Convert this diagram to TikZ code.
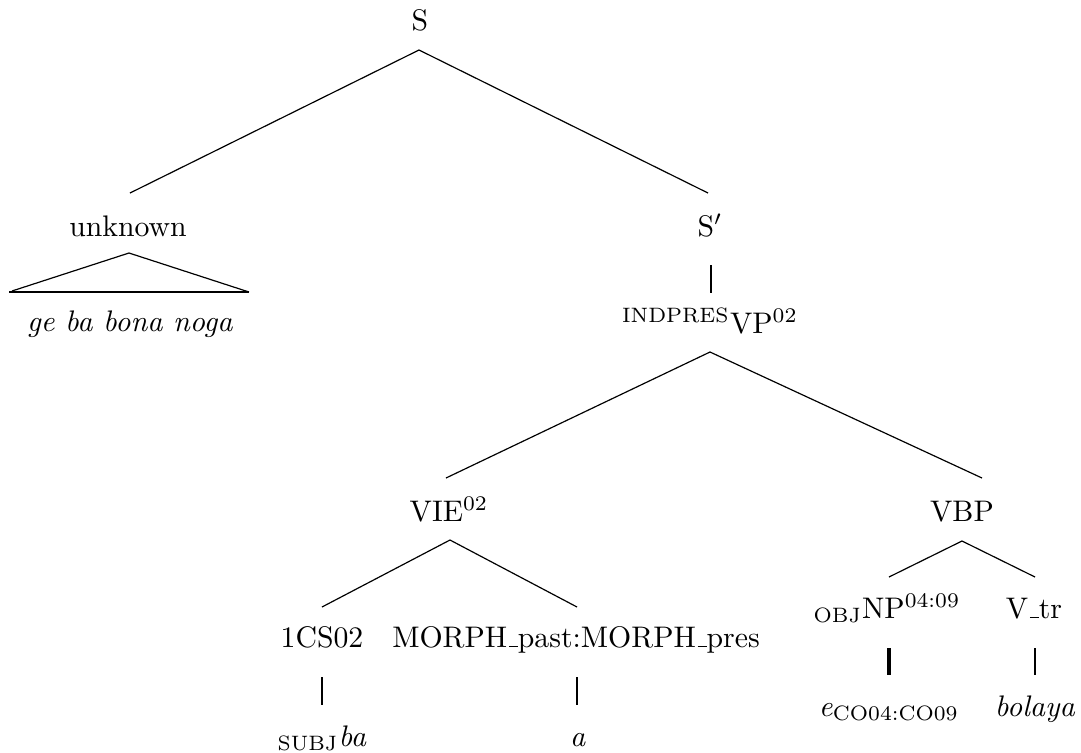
\documentclass[tikz,border=0pt]{standalone}
\usetikzlibrary{calc}
% underscore drawn as a short rule sitting on the baseline
\newcommand\lowbar{\leavevmode\kern.06em\vbox{\hrule width.3em}}
\begin{document}
\begin{tikzpicture}[x=0.336pt,y=-0.336pt,
  lab/.style={anchor=base,inner sep=0pt},
  branch/.style={line width=0.4pt},
  stem/.style={line width=0.9pt}]
\useasboundingbox (0,0) rectangle (1081,752);
% labels
\node[lab] (S)     at (420,30)  {S};
\node[lab] (unk)   at (128,236) {unknown};
\node[lab] (words) at (130,331) {\textit{ge ba bona noga}};
\node[lab] (Sp)    at (710,236) {S$'$};
\node[lab] (VP)    at (710,333) {\textsuperscript{INDPRES}VP\textsuperscript{02}};
\node[lab] (VIE)   at (449,521) {VIE\textsuperscript{02}};
\node[lab] (VBP)   at (962,521) {VBP};
\node[lab] (CS)    at (322,647) {1CS02};
\node[lab] (MO)    at (576,647) {MORPH\lowbar past:MORPH\lowbar pres};
\node[lab] (ba)    at (322,746) {\textsubscript{SUBJ}\textit{ba}};
\node[lab] (a)     at (578,746) {\textit{a}};
\node[lab] (NP)    at (887,618) {\textsubscript{OBJ}NP\textsuperscript{04:09}};
\node[lab] (Vtr)   at (1034,618) {V\lowbar tr};
\node[lab] (e)     at (889,716) {\textit{e}\textsubscript{CO04:CO09}};
\node[lab] (bol)   at (1035,716) {\textit{bolaya}};
% branches
\draw[branch] ($(S.base)+(-1,20)$) -- ($(unk.base)+(2,-43)$);
\draw[branch] ($(S.base)+(-1,20)$) -- ($(Sp.base)+(-2,-43)$);
\draw[branch] ($(unk.base)+(-116,55)$) -- ($(unk.base)+(1,17)$) -- ($(unk.base)+(121,56)$);
\draw[line width=0.8pt] ($(unk.base)+(-119,56)$) -- ($(unk.base)+(121,56)$);
\draw[stem] ($(Sp.base)+(1,29)$) -- ($(Sp.base)+(1,57)$);
\draw[branch] ($(VP.base)+(0,19)$) -- ($(VIE.base)+(-3,-43)$);
\draw[branch] ($(VP.base)+(0,19)$) -- ($(VBP.base)+(20,-43)$);
\draw[branch] ($(VIE.base)+(1,19)$) -- ($(CS.base)+(0,-40)$);
\draw[branch] ($(VIE.base)+(1,19)$) -- ($(MO.base)+(1,-40)$);
\draw[stem] ($(CS.base)+(0,30)$) -- ($(CS.base)+(0,58)$);
\draw[stem] ($(MO.base)+(1,30)$) -- ($(MO.base)+(1,58)$);
\draw[branch] ($(VBP.base)+(0,20)$) -- ($(NP.base)+(2,-41)$);
\draw[branch] ($(VBP.base)+(0,20)$) -- ($(Vtr.base)+(1,-41)$);
\draw[line width=1.2pt] ($(NP.base)+(2,30)$) -- ($(NP.base)+(2,57)$);
\draw[stem] ($(Vtr.base)+(1,30)$) -- ($(Vtr.base)+(1,57)$);
\end{tikzpicture}
\end{document}
